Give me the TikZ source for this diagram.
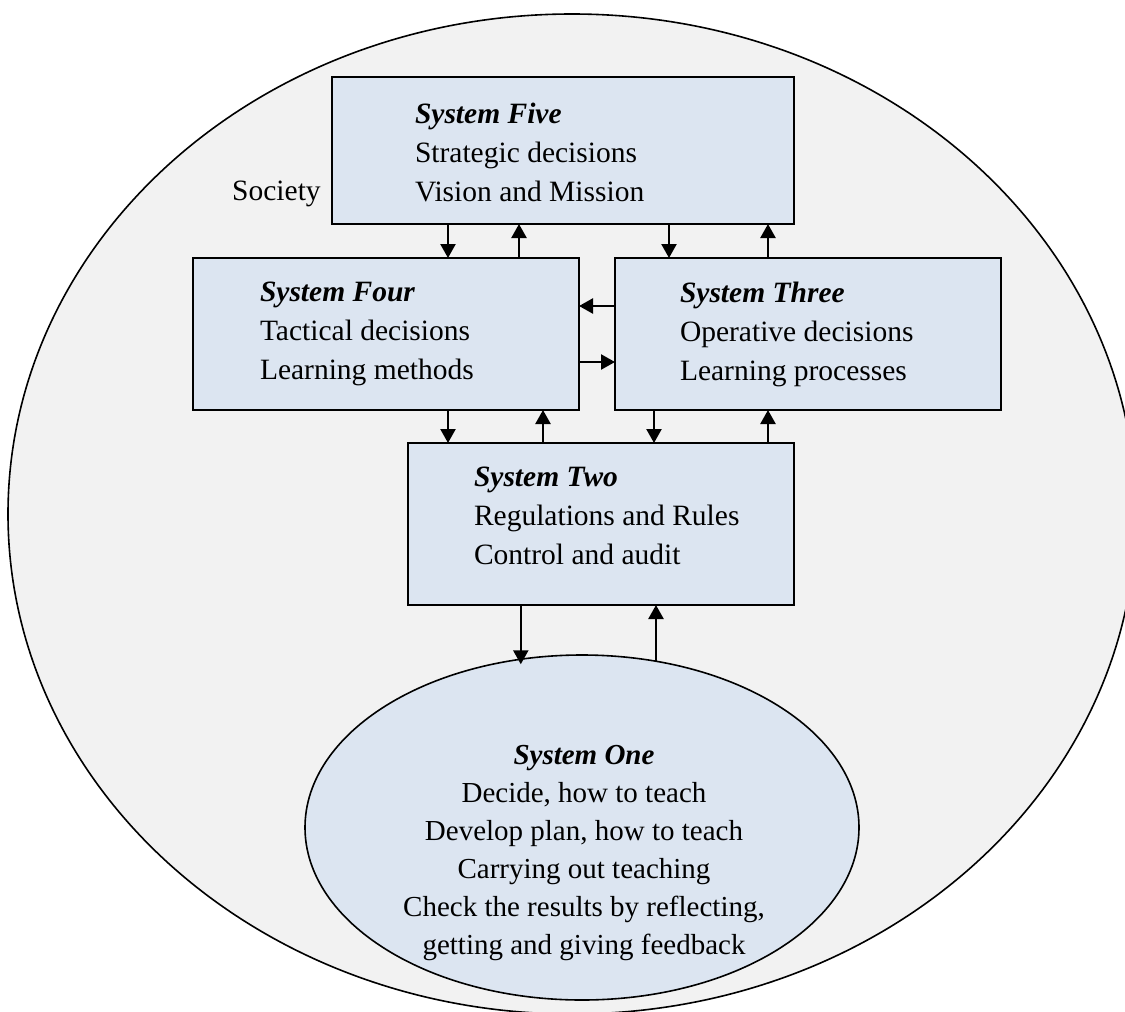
\documentclass[tikz,border=0pt]{standalone}
\usepackage{fontspec}
\setmainfont{Liberation Serif}
\usetikzlibrary{arrows.meta,shapes.geometric}
\definecolor{societybg}{HTML}{F2F2F2}
\definecolor{sysfill}{HTML}{DCE5F1}
\begin{document}
\begin{tikzpicture}[x=1pt,y=-1pt,
  sysbox/.style={draw=black,line width=2pt,fill=sysfill,rectangle,inner sep=0pt,outer sep=0pt},
  sysoval/.style={draw=black,line width=1.6pt,fill=sysfill,ellipse,inner sep=0pt,outer sep=0pt},
  systext/.style={align=left,inner sep=0pt,outer sep=0pt,anchor=north west,font=\fontsize{29.5}{39}\selectfont},
  link/.style={line width=2.4pt,-{Triangle[width=15pt,length=14pt]}},
]
\useasboundingbox (0,0) rectangle (1125,1012);
% the surrounding society
\begin{scope}
  \clip (0,0) rectangle (1125,1012);
  \draw[fill=societybg,line width=1.6pt] (572,514) ellipse [x radius=564pt, y radius=500pt];
\end{scope}
\node[font=\fontsize{29.5}{39}\selectfont,anchor=base west,inner sep=0pt] (soc) at (232,200) {Society};

% the five systems
\node[sysbox,minimum width=462pt,minimum height=147pt] (s5) at (563,150.5) {};
\node[sysbox,minimum width=386pt,minimum height=152pt] (s4) at (386,334) {};
\node[sysbox,minimum width=386pt,minimum height=152pt] (s3) at (808,334) {};
\node[sysbox,minimum width=386pt,minimum height=162pt] (s2) at (601,524) {};
\node[sysoval,minimum width=554pt,minimum height=345pt] (s1) at (582,827.5) {};

\node[systext] (t5) at (415,103) {\textbf{\textit{System Five}}\\Strategic decisions\\Vision and Mission};
\node[systext] (t4) at (260,282) {\textbf{\textit{System Four}}\\Tactical decisions\\Learning methods};
\node[systext] (t3) at (680,282) {\textbf{\textit{System Three}}\\Operative decisions\\Learning processes};
\node[systext] (t2) at (474,467) {\textbf{\textit{System Two}}\\Regulations and Rules\\Control and audit};
\node[systext,align=center,anchor=north,font=\fontsize{29}{38}\selectfont] (t1) at (584,745)
  {\textbf{\textit{System One}}\\Decide, how to teach\\Develop plan, how to teach\\Carrying out teaching\\Check the results by reflecting,\\getting and giving feedback};

% links between the systems
\draw[link] (448,0 |- s5.south) -- (448,0 |- s4.north);
\draw[link] (519,0 |- s4.north) -- (519,0 |- s5.south);
\draw[link] (669,0 |- s5.south) -- (669,0 |- s3.north);
\draw[link] (768,0 |- s3.north) -- (768,0 |- s5.south);
\draw[link] (s3.west |- 0,306) -- (s4.east |- 0,306);
\draw[link] (s4.east |- 0,362) -- (s3.west |- 0,362);
\draw[link] (448,0 |- s4.south) -- (448,0 |- s2.north);
\draw[link] (543,0 |- s2.north) -- (543,0 |- s4.south);
\draw[link] (654,0 |- s3.south) -- (654,0 |- s2.north);
\draw[link] (768,0 |- s2.north) -- (768,0 |- s3.south);
\draw[link,shorten >=-5pt] (s2.south -| s1.110) -- (s1.110);
\draw[link] (s1.66) -- (s2.south -| s1.66);
\end{tikzpicture}
\end{document}
